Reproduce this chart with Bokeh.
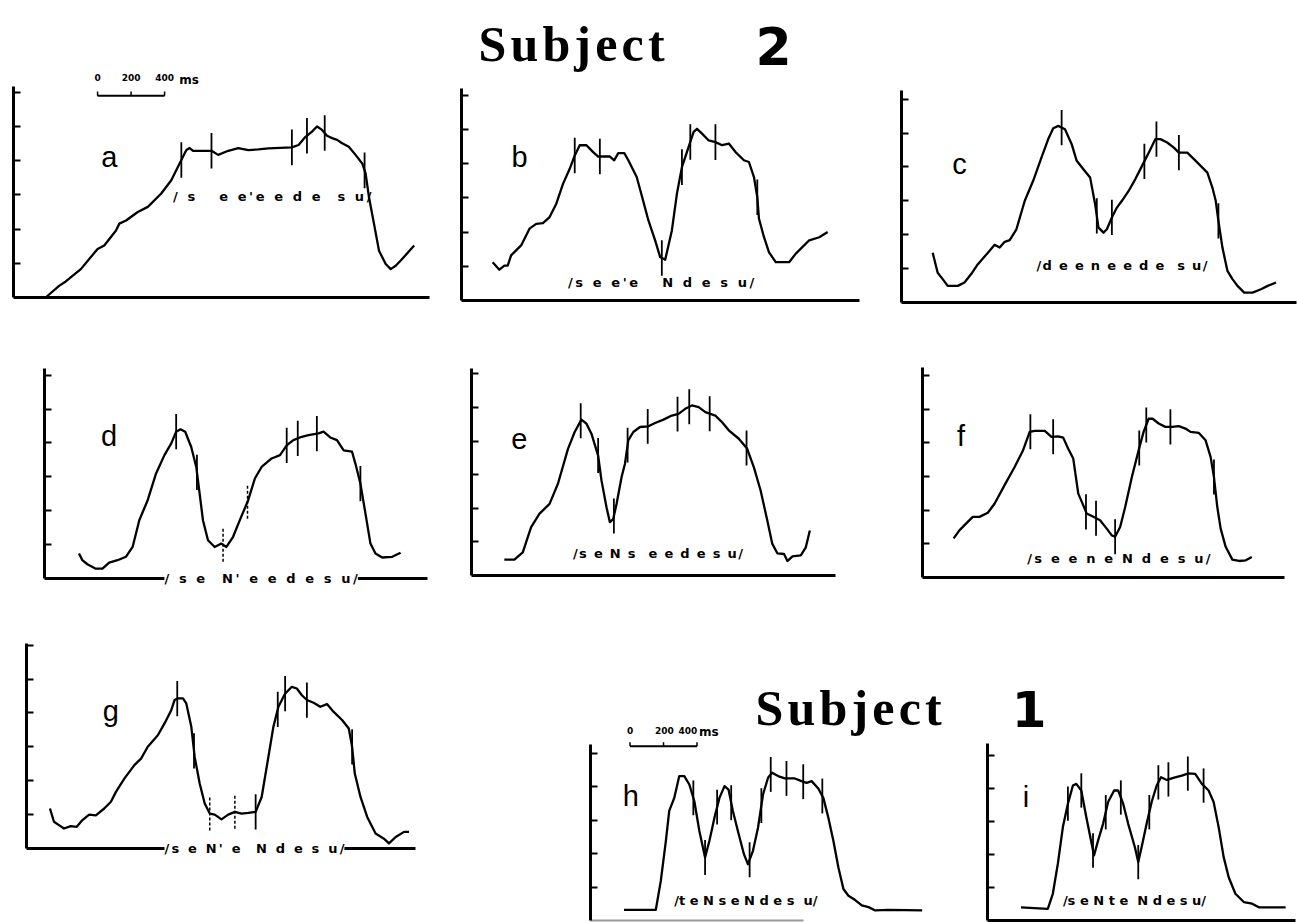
import numpy as np
from bokeh.plotting import figure
from bokeh.layouts import row, column
from bokeh.models import FixedTicker, Label, LinearAxis, CustomJSTickFormatter
from bokeh.core.properties import value
from bokeh.embed import file_html
from bokeh.resources import INLINE

# ---------------- data (time in ms from the F0 axis, F0 in tick units) ----------------
a_curve = [(192, 0.0), (272, 0.34), (312, 0.47), (402, 0.83), (502, 1.42), (542, 1.52), (612, 1.96), (632, 2.16),
           (672, 2.25), (742, 2.5), (802, 2.65), (882, 3.04), (942, 3.43), (1002, 4.02), (1032, 4.31), (1052, 4.37),
           (1072, 4.29), (1182, 4.29), (1222, 4.17), (1282, 4.29), (1342, 4.37), (1402, 4.31), (1462, 4.33),
           (1522, 4.36), (1662, 4.39), (1702, 4.46), (1742, 4.69), (1782, 4.85), (1812, 5.0), (1842, 4.9),
           (1872, 4.73), (1902, 4.66), (1932, 4.61), (1962, 4.51), (2002, 4.41), (2042, 4.17), (2082, 3.92),
           (2102, 3.63), (2122, 2.94), (2152, 2.16), (2182, 1.37), (2222, 0.98), (2252, 0.83), (2282, 0.93),
           (2312, 1.08), (2392, 1.52)]
a_marks = [1002, 1182, 1662, 1752, 1858, 2096]

b_curve = [(186, 1.12), (226, 0.9), (256, 1.02), (276, 1.02), (296, 1.32), (356, 1.61), (406, 2.1), (446, 2.24),
           (486, 2.26), (526, 2.44), (566, 2.83), (606, 3.41), (646, 3.85), (676, 4.24), (706, 4.54), (746, 4.54),
           (786, 4.34), (816, 4.21), (886, 4.21), (912, 4.1), (936, 4.31), (972, 4.31), (996, 4.1), (1046, 3.61),
           (1076, 3.07), (1116, 2.34), (1156, 1.76), (1186, 1.27), (1216, 1.19), (1256, 2.05), (1286, 3.12),
           (1316, 3.9), (1356, 4.49), (1386, 4.93), (1406, 5.02), (1436, 4.88), (1476, 4.68), (1516, 4.63),
           (1556, 4.54), (1596, 4.59), (1636, 4.34), (1686, 4.1), (1716, 4.05), (1746, 3.61), (1766, 3.02),
           (1776, 2.39), (1806, 1.85), (1836, 1.41), (1876, 1.12), (1956, 1.12), (1996, 1.37), (2076, 1.76),
           (2136, 1.85), (2186, 2.0)]
b_marks = [676, 826, 1196, 1316, 1366, 1516, 1766]

c_curve = [(186, 1.47), (216, 0.88), (246, 0.69), (276, 0.49), (336, 0.49), (376, 0.59), (416, 0.84), (456, 1.13),
           (516, 1.47), (556, 1.7), (586, 1.62), (616, 1.79), (646, 1.84), (686, 2.16), (736, 3.0), (786, 3.59),
           (836, 4.28), (876, 4.82), (906, 5.14), (936, 5.21), (976, 5.11), (1016, 4.67), (1046, 4.18), (1086, 3.93),
           (1126, 3.69), (1156, 2.9), (1176, 2.21), (1206, 2.06), (1226, 2.16), (1256, 2.51), (1286, 2.8),
           (1316, 3.0), (1356, 3.29), (1396, 3.64), (1436, 4.03), (1476, 4.42), (1516, 4.82), (1546, 4.82),
           (1586, 4.72), (1626, 4.57), (1656, 4.42), (1706, 4.42), (1746, 4.23), (1786, 4.03), (1826, 3.83),
           (1856, 3.39), (1876, 3.0), (1892, 2.41), (1916, 1.62), (1946, 0.93), (1976, 0.69), (2006, 0.49),
           (2046, 0.29), (2096, 0.29), (2146, 0.39), (2186, 0.49), (2236, 0.59)]
c_marks = [956, 1166, 1256, 1450, 1522, 1656, 1892]

d_curve = [(206, 0.74), (226, 0.54), (256, 0.42), (306, 0.29), (346, 0.29), (386, 0.47), (436, 0.54), (486, 0.64),
           (526, 0.93), (566, 1.72), (616, 2.31), (666, 3.1), (716, 3.64), (756, 3.98), (786, 4.33), (812, 4.4),
           (840, 4.33), (876, 3.88), (906, 3.29), (926, 2.51), (946, 1.72), (976, 1.13), (1016, 0.93), (1056, 1.03),
           (1086, 0.93), (1126, 1.23), (1166, 1.72), (1216, 2.31), (1256, 2.95), (1296, 3.29), (1356, 3.54),
           (1406, 3.64), (1446, 3.93), (1486, 4.08), (1536, 4.18), (1576, 4.23), (1636, 4.28), (1666, 4.33),
           (1706, 4.16), (1746, 4.08), (1786, 3.78), (1836, 3.74), (1856, 3.39), (1886, 2.8), (1916, 1.92),
           (1946, 1.03), (1976, 0.74), (2016, 0.62), (2076, 0.64), (2126, 0.76)]
d_marks = [786, 910, 1446, 1512, 1626, 1886]
d_dashed = [1066, 1212]

e_curve = [(196, 0.47), (256, 0.47), (306, 0.69), (356, 1.44), (406, 1.84), (466, 2.13), (516, 2.73), (576, 3.77),
           (616, 4.27), (656, 4.64), (686, 4.52), (716, 4.22), (756, 3.57), (776, 2.83), (806, 2.03), (826, 1.59),
           (846, 1.68), (866, 2.13), (896, 2.93), (916, 3.32), (936, 4.02), (966, 4.27), (1006, 4.42), (1056, 4.44),
           (1096, 4.54), (1146, 4.64), (1196, 4.76), (1236, 4.81), (1276, 4.96), (1316, 5.06), (1356, 5.01),
           (1396, 4.86), (1456, 4.76), (1496, 4.56), (1536, 4.32), (1596, 4.07), (1646, 3.77), (1686, 3.22),
           (1726, 2.53), (1766, 1.64), (1796, 0.94), (1826, 0.66), (1866, 0.64), (1886, 0.43), (1916, 0.57),
           (1966, 0.6), (1996, 0.84), (2020, 1.34)]
e_marks = [652, 756, 850, 932, 1052, 1230, 1300, 1422, 1642]

f_curve = [(186, 1.16), (220, 1.4), (260, 1.6), (300, 1.8), (340, 1.8), (390, 1.92), (430, 2.19), (490, 2.74),
           (550, 3.28), (600, 3.77), (640, 4.32), (670, 4.35), (730, 4.35), (770, 4.17), (810, 4.19), (840, 4.15),
           (870, 3.82), (900, 3.53), (930, 2.49), (960, 2.14), (980, 1.9), (1020, 1.8), (1060, 1.7), (1100, 1.45),
           (1130, 1.25), (1150, 1.21), (1180, 1.5), (1210, 2.09), (1250, 2.98), (1290, 3.77), (1320, 4.32),
           (1350, 4.71), (1374, 4.71), (1410, 4.57), (1450, 4.47), (1490, 4.47), (1530, 4.49), (1570, 4.42),
           (1600, 4.32), (1650, 4.29), (1690, 4.07), (1720, 3.58), (1740, 2.98), (1760, 2.09), (1780, 1.45),
           (1810, 0.91), (1850, 0.53), (1890, 0.49), (1930, 0.51), (1966, 0.61)]
f_marks = [644, 780, 976, 1036, 1150, 1294, 1336, 1480, 1740]

g_curve = [(140, 1.18), (164, 0.79), (194, 0.69), (224, 0.59), (264, 0.66), (300, 0.64), (334, 0.84), (374, 1.0),
           (414, 0.98), (464, 1.18), (504, 1.38), (534, 1.67), (584, 2.06), (644, 2.46), (684, 2.65), (724, 3.0),
           (784, 3.34), (824, 3.69), (864, 4.08), (884, 4.38), (904, 4.43), (934, 4.43), (954, 4.28), (984, 3.59),
           (1004, 2.7), (1034, 1.92), (1064, 1.33), (1094, 1.03), (1124, 1.0), (1164, 0.86), (1204, 1.0),
           (1244, 1.08), (1284, 1.03), (1324, 1.05), (1368, 1.08), (1404, 1.52), (1444, 2.7), (1474, 3.59),
           (1504, 4.18), (1544, 4.57), (1584, 4.77), (1614, 4.72), (1644, 4.52), (1674, 4.38), (1714, 4.3),
           (1754, 4.18), (1794, 4.26), (1834, 4.03), (1884, 3.79), (1924, 3.54), (1944, 3.0), (1960, 2.21),
           (1994, 1.52), (2034, 0.93), (2084, 0.44), (2134, 0.29), (2164, 0.15), (2204, 0.34), (2254, 0.49),
           (2284, 0.49)]
g_marks = [900, 1000, 1368, 1500, 1544, 1674, 1944]
g_dashed = [1094, 1244]

h_curve = [(200, 0.32), (390, 0.32), (420, 1.19), (450, 2.38), (470, 3.27), (500, 3.66), (530, 4.31), (560, 4.31),
           (590, 4.06), (620, 3.56), (650, 2.67), (684, 1.88), (710, 2.38), (740, 3.07), (770, 3.66), (800, 4.01),
           (824, 3.91), (850, 3.27), (880, 2.67), (916, 1.98), (940, 1.68), (970, 2.08), (1000, 2.77), (1030, 3.76),
           (1060, 4.26), (1084, 4.41), (1120, 4.31), (1160, 4.24), (1220, 4.24), (1260, 4.16), (1290, 4.11),
           (1320, 4.16), (1360, 3.94), (1390, 3.66), (1420, 3.07), (1450, 2.38), (1480, 1.58), (1510, 0.94),
           (1540, 0.74), (1580, 0.61), (1620, 0.45), (1660, 0.4), (1700, 0.3), (1780, 0.32), (1980, 0.3)]
h_marks = [614, 684, 756, 840, 950, 1020, 1076, 1170, 1270, 1384]

i_curve = [(200, 0.4), (360, 0.35), (390, 0.81), (420, 1.72), (450, 2.83), (480, 3.54), (510, 4.09), (530, 4.14),
           (560, 3.94), (590, 3.13), (636, 1.97), (660, 2.42), (690, 2.93), (720, 3.59), (756, 3.94), (780, 3.94),
           (810, 3.54), (840, 2.93), (880, 2.22), (900, 1.77), (920, 2.22), (950, 2.93), (980, 3.59), (1010, 4.09),
           (1036, 4.34), (1070, 4.26), (1120, 4.34), (1160, 4.39), (1200, 4.46), (1240, 4.44), (1280, 4.14),
           (1320, 3.94), (1350, 3.59), (1380, 2.83), (1410, 1.92), (1440, 1.31), (1480, 0.81), (1530, 0.56),
           (1580, 0.51), (1620, 0.4), (1780, 0.4)]
i_marks = [480, 560, 630, 706, 796, 900, 966, 1020, 1080, 1196, 1290]

panel_letters = ["a", "b", "c", "d", "e", "f", "g", "h", "i"]
transcriptions = ["/ s   e e'e e d e  s u/", "/s e e'e   N d e s u/", "/d e e n e e d e  s u/",
                  "/ s e  N' e e d e s u/", "/s e N s  e e d e s u/", "/s e e n e N d e s u/",
                  "/s e N' e  N d e s u/", "/t e N s e N d e s  u/", "/s e N t e  N d e s u/"]
scale_ticks = [0, 200, 400]
scale_labels = ["0", "200", "400"]
titles = [("Subject", "2"), ("Subject", "1")]

# ---------------- geometry / styles ----------------
PX_MS = 0.1675
THIN, SIXTH, HAIR = "\u2009", "\u2006", "\u200a"
G = {
    "a": dict(w=450, h=320, left=13, bottom=23, pu=34.2, ytop=6.18, nt=6, xend=2482, lpos=(572, 4.12), tpos=(952, 2.94), onaxis=False, join=THIN),
    "b": dict(w=437, h=320, left=11, bottom=20, pu=34.2, ytop=6.2, nt=6, xend=2376, lpos=(346, 4.2), tpos=(636, 0.54), onaxis=False, join=THIN),
    "c": dict(w=410, h=320, left=14, bottom=18, pu=33.9, ytop=6.24, nt=6, xend=2360, lpos=(346, 4.1), tpos=(806, 1.08), onaxis=False, join=HAIR),
    "d": dict(w=455, h=280, left=44, bottom=22, pu=33.9, ytop=6.2, nt=6, xend=2286, lpos=(386, 4.2), tpos=(716, 0.0), onaxis=True, join=THIN),
    "e": dict(w=445, h=280, left=16, bottom=25, pu=33.6, ytop=6.15, nt=6, xend=2176, lpos=(286, 4.05), tpos=(606, 0.64), onaxis=False, join=HAIR),
    "f": dict(w=397, h=280, left=22, bottom=23, pu=33.7, ytop=6.24, nt=6, xend=2160, lpos=(230, 4.2), tpos=(626, 0.56), onaxis=False, join=SIXTH),
    "g": dict(w=560, h=322, left=26, bottom=74, pu=33.9, ytop=6.05, nt=6, xend=2324, lpos=(504, 4.05), tpos=(824, 0.0), onaxis=True, join=SIXTH),
    "h": dict(w=415, h=322, left=30, bottom=2, pu=33.5, ytop=5.25, nt=5, xend=1270, lpos=(240, 3.71), tpos=(500, 0.59), onaxis=False, join=""),
    "i": dict(w=322, h=322, left=12, bottom=2, pu=33.0, ytop=5.35, nt=5, xend=1840, lpos=(230, 3.74), tpos=(450, 0.61), onaxis=False, join=""),
}
curves = dict(a=a_curve, b=b_curve, c=c_curve, d=d_curve, e=e_curve, f=f_curve, g=g_curve, h=h_curve, i=i_curve)
marks = dict(a=a_marks, b=b_marks, c=c_marks, d=d_marks, e=e_marks, f=f_marks, g=g_marks, h=h_marks, i=i_marks)
dashed = dict(d=d_dashed, g=g_dashed)

PHON_FONT = "DejaVu Sans"
PHON_SIZE = "13px"


def spaced(s, joiner):
    # wide letter spacing as in the original typewritten transcriptions
    out = joiner.join(list(s))
    return out.replace(" ", "\u00a0")


def make_panel(key, idx):
    g = G[key]
    p = figure(width=g["w"], height=g["h"], output_backend="svg", toolbar_location=None,
               x_range=(-g["left"] / PX_MS, (g["w"] - g["left"]) / PX_MS),
               y_range=(-g["bottom"] / g["pu"], (g["h"] - g["bottom"]) / g["pu"]),
               x_axis_type=None, y_axis_type=None, min_border=0)
    p.outline_line_color = None
    p.background_fill_color = "white"
    p.border_fill_color = "white"

    yax = LinearAxis(ticker=FixedTicker(ticks=list(range(1, g["nt"] + 1))),
                     formatter=CustomJSTickFormatter(code="return ''"),
                     major_tick_in=7, major_tick_out=0, minor_tick_in=0, minor_tick_out=0,
                     major_label_standoff=0, axis_line_width=3, major_tick_line_width=2,
                     bounds=(0, g["ytop"]), fixed_location=0)
    p.add_layout(yax, "left")
    xcol = "#9a9a9a" if key == "h" else "black"
    xax = LinearAxis(ticker=FixedTicker(ticks=[]), major_tick_in=0, major_tick_out=0,
                     major_label_standoff=0, axis_line_width=2 if key == "h" else 3,
                     axis_line_color=xcol, bounds=(0, g["xend"]), fixed_location=0)
    p.add_layout(xax, "below")

    t = np.array([c[0] for c in curves[key]], dtype=float)
    f0 = np.array([c[1] for c in curves[key]], dtype=float)
    p.line(t, f0, line_width=2.3, color="black", line_join="round")

    m = np.array(marks[key], dtype=float)
    mc = np.interp(m, t, f0)
    p.segment(x0=m, y0=mc - 0.52, x1=m, y1=mc + 0.52, line_width=1.8, color="black")
    if key in dashed:
        md = np.array(dashed[key], dtype=float)
        mdc = np.interp(md, t, f0)
        p.segment(x0=md, y0=mdc - 0.5, x1=md, y1=mdc + 0.5, line_width=1.5, color="black", line_dash="3 2")

    lx, ly = g["lpos"]
    p.text(x=[lx], y=[ly], text=[panel_letters[idx]], text_font=value("Liberation Sans"),
           text_font_size="29px", text_align="center", text_baseline="middle", text_color="black")

    tx, ty = g["tpos"]
    label_text = spaced(transcriptions[idx], g["join"])
    if g["onaxis"]:
        p.add_layout(Label(x=tx, y=ty, text=label_text, text_font=PHON_FONT, text_font_style="bold",
                           text_font_size=PHON_SIZE, text_baseline="middle", text_align="left",
                           background_fill_color="white", text_color="black"))
    else:
        p.text(x=[tx], y=[ty], text=[label_text], text_font=value(PHON_FONT), text_font_style="bold",
               text_font_size=PHON_SIZE, text_align="left", text_baseline="middle", text_color="black")
    return p


def add_scale(p, x0, y0, ylab, ms_x, label_shift):
    st = np.array(scale_ticks, dtype=float) + x0
    p.segment(x0=[st[0]], y0=[y0], x1=[st[-1]], y1=[y0], line_width=2, color="black")
    p.segment(x0=st, y0=[y0] * len(st), x1=st, y1=[y0 + 0.12] * len(st), line_width=1.5, color="black")
    p.text(x=st + np.array(label_shift), y=[ylab] * len(st), text=scale_labels, text_font=value("DejaVu Sans"),
           text_font_style="bold", text_font_size="9px", text_align="center", text_baseline="alphabetic")
    p.text(x=[ms_x], y=[ylab - 0.05], text=["ms"], text_font=value("DejaVu Sans"), text_font_style="bold",
           text_font_size="12px", text_align="left", text_baseline="alphabetic")


figs = {k: make_panel(k, i) for i, k in enumerate(panel_letters)}

add_scale(figs["a"], 502, 5.9, 6.42, 990, [0, 0, 0])
add_scale(figs["h"], 236, 5.2, 5.68, 648, [0, 5, -55])

pb = figs["b"]
pb.text(x=[101], y=[7.5], text=[HAIR.join(titles[0][0])], text_font=value("Liberation Serif"), text_font_style="bold",
        text_font_size="50px", text_align="left", text_baseline="alphabetic")
pb.text(x=[1755], y=[7.45], text=[titles[0][1]], text_font=value("DejaVu Sans"), text_font_style="bold",
        text_font_size="52px", text_align="left", text_baseline="alphabetic")
ph = figs["h"]
ph.text(x=[985], y=[6.33], text=[HAIR.join(titles[1][0])], text_font=value("Liberation Serif"), text_font_style="bold",
        text_font_size="50px", text_align="left", text_baseline="alphabetic")
pi = figs["i"]
pi.text(x=[145], y=[6.4], text=[titles[1][1]], text_font=value("DejaVu Sans"), text_font_style="bold",
        text_font_size="50px", text_align="left", text_baseline="alphabetic")

layout = column(row(figs["a"], figs["b"], figs["c"], spacing=0),
                row(figs["d"], figs["e"], figs["f"], spacing=0),
                row(figs["g"], figs["h"], figs["i"], spacing=0), spacing=0)

open("out.html", "w").write(file_html(layout, INLINE))
